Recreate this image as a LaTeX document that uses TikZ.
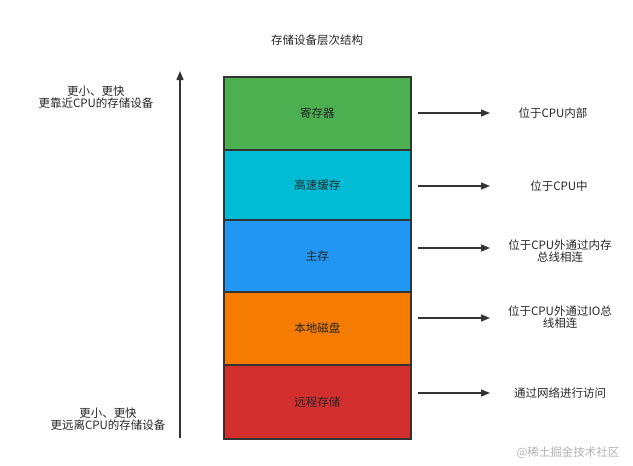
\documentclass[tikz,border=0pt]{standalone}
\usepackage{fontspec}
\setmainfont{Noto Sans CJK SC}
\usetikzlibrary{arrows.meta}
\definecolor{cgreen}{HTML}{4CAF50}
\definecolor{ccyan}{HTML}{00BCD4}
\definecolor{cblue}{HTML}{2196F3}
\definecolor{corange}{HTML}{F57C00}
\definecolor{cred}{HTML}{D32F2F}
\definecolor{cline}{HTML}{333333}
\begin{document}
\begin{tikzpicture}[x=1pt,y=-1pt,
  every node/.style={font=\fontsize{11.5}{14}\selectfont, text=black!85},
  layer/.style={draw=cline, line width=1.5pt, minimum width=187pt, inner sep=0pt, anchor=north west},
  note/.style={align=center},
  conn/.style={draw=cline, line width=1.3pt, -{Triangle[length=9pt,width=7pt]}}]
\useasboundingbox (0,0) rectangle (633,466);
\node (title) at (317,40) {存储设备层次结构};
\node[layer, fill=cgreen, minimum height=73pt] (r1) at (223,76) {寄存器};
\node[layer, fill=ccyan, minimum height=70pt] (r2) at (223,149) {高速缓存};
\node[layer, fill=cblue, minimum height=72pt] (r3) at (223,219) {主存};
\node[layer, fill=corange, minimum height=73pt] (r4) at (223,291) {本地磁盘};
\node[layer, fill=cred, minimum height=74pt] (r5) at (223,364) {远程存储};
\coordinate (vb) at (180,438);
\coordinate (vt) at (180,71);
\draw[conn] (vb) -- (vt);
\node[note] (lt) at (96,97) {更小、更快\\[-2pt]更靠近CPU的存储设备};
\node[note] (lb) at (108,419) {更小、更快\\[-2pt]更远离CPU的存储设备};
\coordinate (a1) at (418,113); \coordinate (b1) at (490,113);
\coordinate (a2) at (418,186); \coordinate (b2) at (490,186);
\coordinate (a3) at (418,248); \coordinate (b3) at (490,248);
\coordinate (a4) at (418,318); \coordinate (b4) at (490,318);
\coordinate (a5) at (418,393); \coordinate (b5) at (490,393);
\draw[conn] (a1) -- (b1);
\draw[conn] (a2) -- (b2);
\draw[conn] (a3) -- (b3);
\draw[conn] (a4) -- (b4);
\draw[conn] (a5) -- (b5);
\node[note] (t1) at (553,113) {位于CPU内部};
\node[note] (t2) at (559,186) {位于CPU中};
\node[note] (t3) at (560,251) {位于CPU外通过内存\\[-2pt]总线相连};
\node[note] (t4) at (560,317) {位于CPU外通过IO总\\[-2pt]线相连};
\node[note] (t5) at (560,393) {通过网络进行访问};
\node[text=black!30] (wm) at (568,453) {@稀土掘金技术社区};
\end{tikzpicture}
\end{document}
